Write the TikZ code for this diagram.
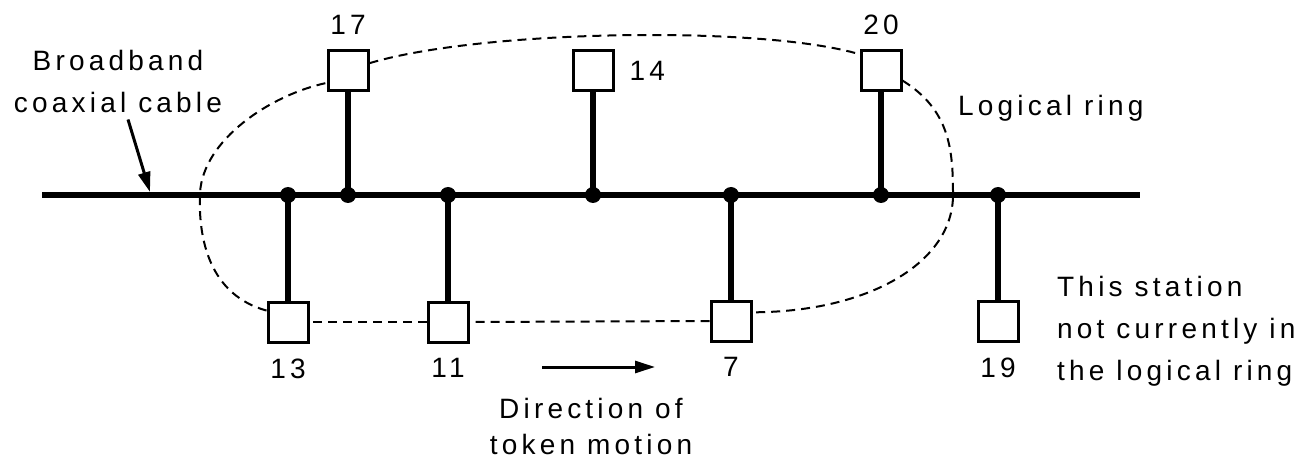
\documentclass[tikz,border=0pt]{standalone}
\usepackage{fontspec}
\setmainfont{Liberation Sans}[LetterSpace=15]
\usetikzlibrary{arrows.meta,positioning}

\begin{document}
\begin{tikzpicture}[x=1pt,y=-1pt]
        % Styles
        \tikzstyle{cable}=[line width=6pt]
        \tikzstyle{stem}=[line width=6pt]
        \tikzstyle{station}=[draw,line width=3pt,minimum size=40pt,inner sep=0pt]
        \tikzstyle{ring}=[line width=2pt,dash pattern=on 9pt off 6pt]
        \tikzstyle{pointer}=[line width=3pt,-{Triangle[length=20pt,width=12pt]}]
        \tikzstyle{txt}=[font=\fontsize{28}{42}\selectfont,inner sep=0pt]
        \useasboundingbox (0,0) rectangle (1295,462);
        %The cable
        \coordinate (cable west) at (42,195);
        \coordinate (cable east) at (1140,195);
        \draw[cable] (cable west) -- (cable east);
        % Stations and taps
        \foreach \n/\x/\y/\where in {13/288/322/below, 17/348/71/above, 11/448/322/below,
            14/593/71/right, 7/731/321/below, 20/881/71/above, 19/998/321/below}
        {
            \coordinate (t\n) at (\x,195);
            \node[station] (s\n) at (\x,\y) {};
            \node[txt,\where=15pt of s\n] (n\n) {\n};
            \draw[stem] (t\n) -- (s\n);
            \fill (t\n) circle (8pt);
        }
        % Logical ring
        \draw[ring] (s17.20) .. controls (480,30) and (760,25) .. (s20.142);
        \draw[ring] (s20.-24) .. controls (950,110) and (953,150) .. (953,195)
            .. controls (953,262) and (870,312) .. (s7.22);
        \draw[ring] (s7.west) -- (s11.east);
        \draw[ring] (s11.west) -- (s13.east);
        \draw[ring] (s13.152) .. controls (210,295) and (198,240) .. (200,193)
            .. controls (203,140) and (270,95) .. (s17.-151);
        % Texts
        \node[txt,align=center] (cabletxt) at (118,81) {Broadband\\coaxial cable};
        \coordinate (cabletip) at (150,192);
        \draw[pointer] ([xshift=10pt,yshift=-7pt]cabletxt.south) -- (cabletip);
        \node[txt,anchor=west] (ringtxt) at (958,108) {Logical ring};
        \node[txt,align=left,anchor=west] (outtxt) at (1057,331)
            {This station\\not currently in\\the logical ring};
        \coordinate (dirstart) at (542,367);
        \coordinate (dirend) at (655,367);
        \draw[pointer] (dirstart) -- (dirend);
        \node[txt,align=center] (dirtxt) at (591,426) {Direction of\\[-6pt]token motion};
    \end{tikzpicture}
\end{document}
